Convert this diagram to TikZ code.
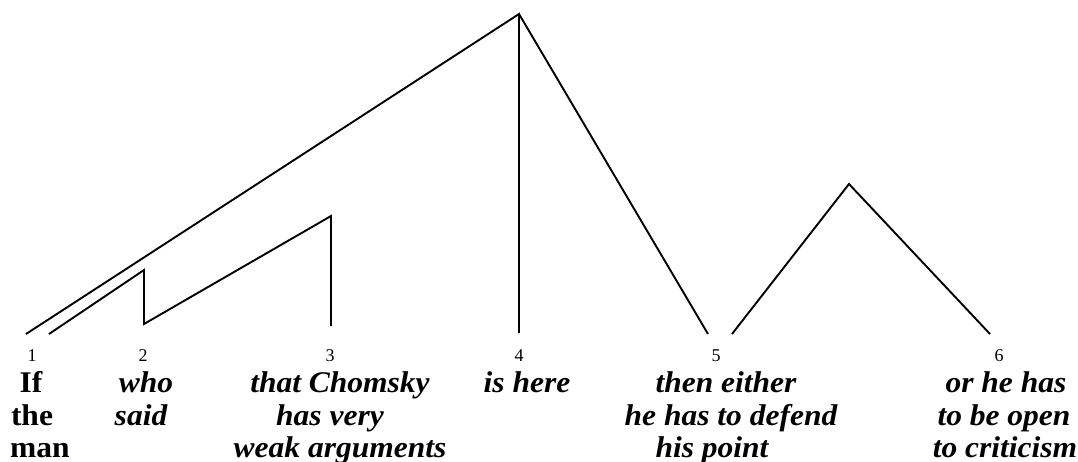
\documentclass[tikz,border=0pt]{standalone}
\usepackage{fontspec}
\setmainfont{Liberation Serif}
\newfontfamily\clausefont[FakeStretch=1.05]{Liberation Serif}

\begin{document}
\begin{tikzpicture}[x=1pt,y=-1pt,
  branch/.style={line width=1.9pt, line join=miter},
  leafnum/.style={font=\fontsize{18}{18}\selectfont, anchor=base, inner sep=0pt},
  clause/.style={font=\clausefont\fontsize{30}{33}\selectfont\bfseries\itshape, anchor=base, inner sep=0pt},
  plainclause/.style={clause, font=\clausefont\fontsize{30}{33}\selectfont\bfseries\upshape}]
\useasboundingbox (0,0) rectangle (1078,461);

% tree points
\coordinate (top) at (519,14);
\coordinate (foot1) at (26,334);
\coordinate (foot2) at (49,334);
\coordinate (peak2) at (144,270);
\coordinate (dip2) at (144,324);
\coordinate (peak3) at (331,216);
\coordinate (foot3) at (331,326);
\coordinate (foot4) at (519,333);
\coordinate (foot5) at (708,334);
\coordinate (foot5b) at (732,334);
\coordinate (peak6) at (849,184);
\coordinate (foot6) at (990,334);

\draw[branch] (foot1) -- (top) -- (foot4);
\draw[branch] (top) -- (foot5);
\draw[branch] (foot2) -- (peak2) -- (dip2) -- (peak3) -- (foot3);
\draw[branch] (foot5b) -- (peak6) -- (foot6);

% leaf numbers
\node[leafnum] (num1) at (32,361) {1};
\node[leafnum] (num2) at (143,361) {2};
\node[leafnum] (num3) at (330,361) {3};
\node[leafnum] (num4) at (519,361) {4};
\node[leafnum] (num5) at (716,361) {5};
\node[leafnum] (num6) at (999,361) {6};

% clauses
\node[plainclause] (ifa) at (31,392) {If};
\node[plainclause] (ifb) at (32,425) {the};
\node[plainclause] (ifc) at (40,457) {man};
\node[clause] (whoa) at (146,392) {who};
\node[clause] (whob) at (141,425) {said};
\node[clause] (thata) at (340,392) {that Chomsky};
\node[clause] (thatb) at (330,425) {has very};
\node[clause] (thatc) at (340,457) {weak arguments};
\node[clause] (isa) at (527,392) {is here};
\node[clause] (thena) at (726,392) {then either};
\node[clause] (thenb) at (731,425) {he has to defend};
\node[clause] (thenc) at (712,457) {his point};
\node[clause] (ora) at (1006,392) {or he has};
\node[clause] (orb) at (1004,425) {to be open};
\node[clause] (orc) at (1005,457) {to criticism};
\end{tikzpicture}
\end{document}
